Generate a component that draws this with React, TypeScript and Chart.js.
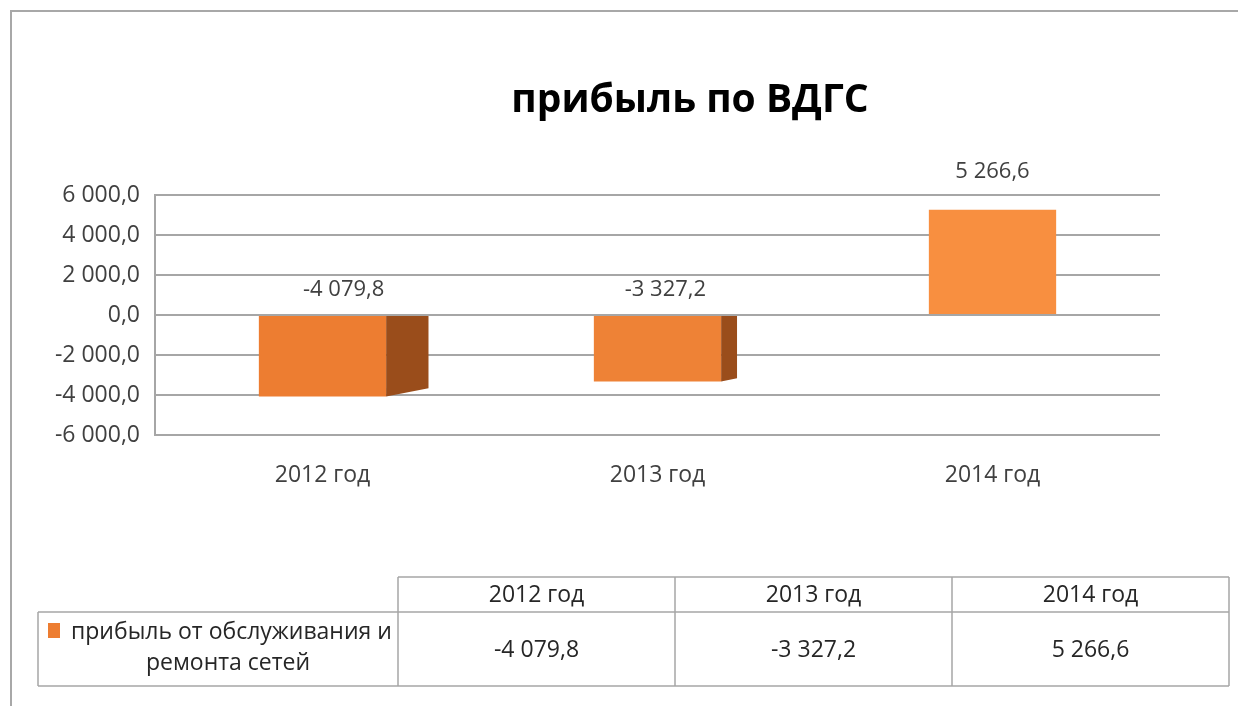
import React, { useEffect, useRef } from "react";
import { Chart, registerables } from "chart.js";

Chart.register(...registerables);

const title = "прибыль по ВДГС";
const categories = ["2012 год", "2013 год", "2014 год"];
const seriesName = "прибыль от обслуживания и ремонта сетей";
const seriesNameLines = ["прибыль от обслуживания и", "ремонта сетей"];
const profit = [-4079.8, -3327.2, 5266.6];
const yMin = -6000;
const yMax = 6000;
const yStep = 2000;

const FONT = "'Open Sans', 'Noto Sans', sans-serif";
const TEXT = "#404040";
const GRID = "#A6A6A6";
const ORANGE = "#ED7D31";
const SIDE = "#9A4D1B";

function fmt(v: number): string {
  const neg = v < 0;
  const [i, d] = Math.abs(v).toFixed(1).split(".");
  const int = i.replace(/\B(?=(\d{3})+(?!\d))/g, " ");
  return (neg ? "-" : "") + int + "," + d;
}

const extras = {
  id: "extras",
  afterDatasetsDraw(chart: any) {
    const ctx = chart.ctx;
    const area = chart.chartArea;
    const vp = area.left + (area.right - area.left) * 0.7;
    const meta = chart.getDatasetMeta(0);
    ctx.save();
    meta.data.forEach((el: any, i: number) => {
      const props = el.getProps(["x", "y", "base", "width"], true);
      const right = props.x + props.width / 2;
      const top = Math.min(props.y, props.base);
      const bottom = Math.max(props.y, props.base);
      const d = Math.max(0, (vp - props.x) * 0.079);
      if (d > 0.5) {
        ctx.fillStyle = SIDE;
        ctx.beginPath();
        if (profit[i] < 0) {
          ctx.moveTo(right, top);
          ctx.lineTo(right + d, top);
          ctx.lineTo(right + d, bottom - d * 0.2);
          ctx.lineTo(right, bottom);
        } else {
          ctx.moveTo(right, top);
          ctx.lineTo(right + d, top - d * 0.2);
          ctx.lineTo(right + d, bottom);
          ctx.lineTo(right, bottom);
        }
        ctx.closePath();
        ctx.fill();
      }
      ctx.fillStyle = TEXT;
      ctx.font = `22px ${FONT}`;
      ctx.textAlign = "center";
      ctx.textBaseline = "middle";
      ctx.fillText(fmt(profit[i]), props.x + d / 2, top - (profit[i] < 0 ? 26 : 38));
    });
    ctx.restore();
  },
  afterDraw(chart: any) {
    const ctx = chart.ctx;
    const W = chart.width;
    const H = chart.height;
    ctx.save();
    // outer frame (extends past the visible page on the right and bottom)
    ctx.strokeStyle = "#A8A8A8";
    ctx.lineWidth = 2;
    ctx.strokeRect(3, 3, W + 20, H + 20);

    // title
    ctx.fillStyle = "#000";
    ctx.font = `bold 39px ${FONT}`;
    ctx.textAlign = "center";
    ctx.textBaseline = "middle";
    ctx.fillText(title, 682, 93);

    // data table
    const left0 = 30;
    const tLeft = 390;
    const colW = 277;
    const tRight = tLeft + colW * categories.length;
    const yTop = 569;
    const yMid = 604;
    const yBot = 678;
    ctx.strokeStyle = GRID;
    ctx.lineWidth = 1.5;
    ctx.beginPath();
    ctx.moveTo(tLeft, yTop);
    ctx.lineTo(tRight, yTop);
    ctx.moveTo(left0, yMid);
    ctx.lineTo(tRight, yMid);
    ctx.moveTo(left0, yBot);
    ctx.lineTo(tRight, yBot);
    ctx.moveTo(left0, yMid);
    ctx.lineTo(left0, yBot);
    for (let c = 0; c <= categories.length; c++) {
      const x = tLeft + colW * c;
      ctx.moveTo(x, yTop);
      ctx.lineTo(x, yBot);
    }
    ctx.stroke();

    ctx.fillStyle = "#262626";
    ctx.font = `23px ${FONT}`;
    ctx.textAlign = "center";
    ctx.textBaseline = "middle";
    categories.forEach((c, i) => {
      const cx = tLeft + colW * (i + 0.5);
      ctx.fillText(c, cx, (yTop + yMid) / 2 + 1);
      ctx.fillText(fmt(profit[i]), cx, (yMid + yBot) / 2 + 1);
    });
    // legend key + series name
    ctx.fillStyle = ORANGE;
    ctx.fillRect(40, 615, 12, 15);
    ctx.fillStyle = "#262626";
    ctx.textAlign = "left";
    ctx.fillText(seriesNameLines[0], 63, 624);
    ctx.textAlign = "center";
    ctx.fillText(seriesNameLines[1], 220, 655);
    ctx.restore();
  },
};

export default function App() {
  const ref = useRef<HTMLCanvasElement | null>(null);
  useEffect(() => {
    if (!ref.current) return;
    const chart = new Chart(ref.current, {
      type: "bar",
      data: {
        labels: categories,
        datasets: [
          {
            label: seriesName,
            data: profit,
            backgroundColor: ["#ED7D31", "#EE8236", "#F88F40"],
            borderWidth: 0,
            barPercentage: 0.38,
            categoryPercentage: 1,
          },
        ],
      },
      options: {
        animation: false,
        responsive: true,
        maintainAspectRatio: false,
        layout: { padding: { top: 187, bottom: 211, left: 0, right: 78 } },
        plugins: {
          legend: { display: false },
          title: { display: false },
          tooltip: { enabled: false },
        },
        scales: {
          x: {
            grid: { display: false, drawTicks: false },
            border: { display: false },
            ticks: { color: TEXT, font: { family: FONT, size: 23 }, padding: 27 },
            afterFit: (s: any) => {
              s.height = 60;
            },
          },
          y: {
            min: yMin,
            max: yMax,
            grid: { color: GRID, lineWidth: 2, drawTicks: false },
            border: { display: true, color: GRID, width: 2 },
            ticks: {
              stepSize: yStep,
              color: TEXT,
              font: { family: FONT, size: 23 },
              padding: 15,
              callback: (v: any) => fmt(Number(v)),
            },
            afterFit: (s: any) => {
              s.width = 147;
            },
          },
        },
      },
      plugins: [extras],
    });
    return () => chart.destroy();
  }, []);
  return (
    <div style={{ width: 1230, height: 698, position: "relative" }}>
      <canvas ref={ref} />
    </div>
  );
}
